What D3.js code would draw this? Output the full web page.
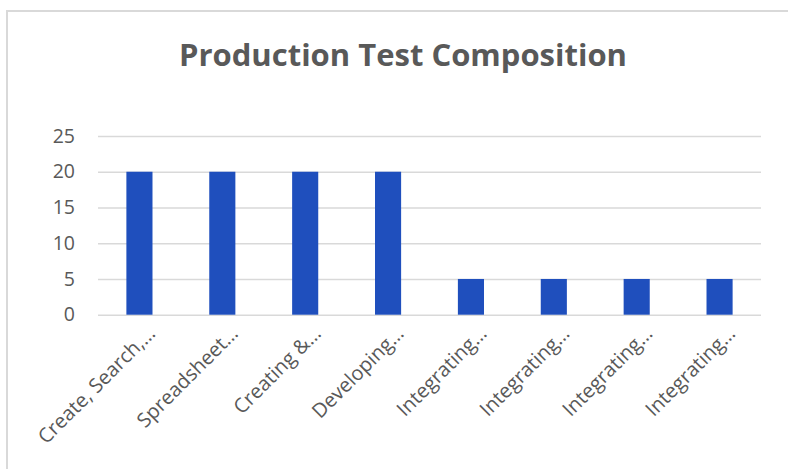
<!DOCTYPE html>
<html>
<head>
<meta charset="utf-8">
<script src="https://cdn.jsdelivr.net/npm/d3@7/dist/d3.min.js"></script>
<style>
  html, body { margin: 0; padding: 0; background: #fff; }
  svg { display: block; }
</style>
</head>
<body>
<svg id="chart" width="788" height="469"></svg>
<script>
const title = "Production Test Composition";
const categories = ["Create, Search,…", "Spreadsheet…", "Creating &…", "Developing…",
                    "Integrating…", "Integrating…", "Integrating…", "Integrating…"];
const values = [20, 20, 20, 20, 5, 5, 5, 5];
const yTicks = [0, 5, 10, 15, 20, 25];

const W = 788, H = 469;
const margin = { left: 98, right: 27, top: 136, bottom: 154.3 };
const svg = d3.select("#chart");

// chart border (open at right / bottom like the reference crop)
svg.append("path")
  .attr("d", `M7,${H} L7,11 L${W},11`)
  .attr("fill", "none").attr("stroke", "#d9d9d9").attr("stroke-width", 2);

const x = d3.scaleBand()
  .domain(d3.range(categories.length))
  .range([margin.left, W - margin.right])
  .padding(0);
const y = d3.scaleLinear().domain([0, 25]).range([H - margin.bottom, margin.top]);

// gridlines
const yAxis = d3.axisLeft(y).tickValues(yTicks).tickSize(-(W - margin.right - margin.left)).tickPadding(23);
const gy = svg.append("g").attr("transform", `translate(${margin.left},0)`).call(yAxis);
gy.select(".domain").remove();
gy.selectAll(".tick line").attr("stroke", "#d9d9d9").attr("stroke-width", 1.5);
gy.selectAll(".tick text")
  .attr("fill", "#595959")
  .style("font-family", "'Open Sans', 'Noto Sans', sans-serif")
  .style("font-size", "19.5px");

// bars
const barFrac = 0.315;
svg.append("g").selectAll("rect").data(values).join("rect")
  .attr("x", (d, i) => x(i) + x.bandwidth() * (1 - barFrac) / 2)
  .attr("width", x.bandwidth() * barFrac)
  .attr("y", d => y(d))
  .attr("height", d => y(0) - y(d))
  .attr("fill", "#1f4fbd");

// x labels
const xAxis = d3.axisBottom(x).tickSize(0).tickFormat(i => categories[i]);
const gx = svg.append("g").attr("transform", `translate(0,${y(0)})`).call(xAxis);
gx.select(".domain").remove();
gx.selectAll(".tick text")
  .attr("fill", "#595959")
  .style("font-family", "'Open Sans', 'Noto Sans', sans-serif")
  .style("font-size", "20px")
  .attr("text-anchor", "end")
  .attr("dy", null)
  .attr("y", 0)
  .attr("transform", "translate(17,20) rotate(-45)");

// title
svg.append("text")
  .attr("x", 403).attr("y", 66)
  .attr("text-anchor", "middle")
  .attr("fill", "#595959")
  .style("font-family", "'Open Sans', 'Noto Sans', sans-serif")
  .style("font-weight", "bold")
  .style("font-size", "31px")
  .text(title);
</script>
</body>
</html>
